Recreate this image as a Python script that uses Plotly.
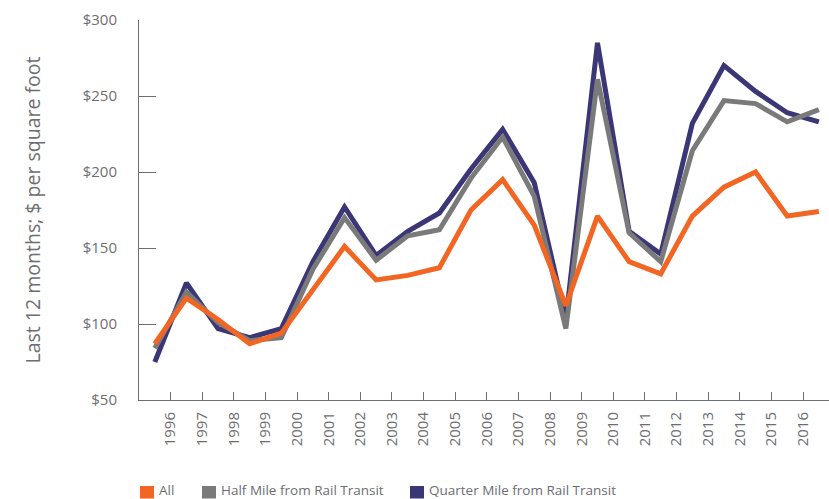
import plotly.graph_objects as go

# Data (annual points placed between year ticks)
x_pos = [1995.5 + i for i in range(22)]
all_vals = [87, 117, 103, 87, 94, 123, 151, 129, 132, 137, 175, 195, 165, 112, 171, 141, 133, 171, 190, 200, 171, 174]
half_vals = [84, 121, 101, 89, 91, 136, 170, 142, 158, 162, 196, 223, 184, 97, 261, 160, 141, 214, 247, 245, 233, 241]
quarter_vals = [75, 127, 97, 91, 97, 141, 177, 145, 161, 173, 202, 228, 193, 103, 285, 161, 146, 232, 270, 253, 239, 233]
tick_years = list(range(1996, 2017))
tick_text = [str(y) for y in tick_years]
y_ticks = [50, 100, 150, 200, 250, 300]
y_text = ["$50", "$100", "$150", "$200", "$250", "$300"]

series = [
    ("All", all_vals, "#F26522"),
    ("Half Mile from Rail Transit", half_vals, "#7A7A7A"),
    ("Quarter Mile from Rail Transit", quarter_vals, "#3B3675"),
]

fig = go.Figure()
for name, vals, color in [series[2], series[1], series[0]]:
    fig.add_trace(go.Scatter(x=x_pos, y=vals, mode="lines", name=name,
                             line=dict(color=color, width=5), showlegend=False))

FONT = "Open Sans"
W, H = 829, 499
L, R, T, B = 139, 0, 20, 99
pw, ph = W - L - R, H - T - B

def px(xp):
    return (xp - L) / pw

def py(yp):
    return (H - B - yp) / ph

# manual legend
leg = [("All", "#F26522", 140, 159), ("Half Mile from Rail Transit", "#7A7A7A", 202, 221),
       ("Quarter Mile from Rail Transit", "#3B3675", 410, 429)]
for name, color, sx, tx in leg:
    fig.add_shape(type="rect", xref="paper", yref="paper", x0=px(sx), x1=px(sx + 14),
                  y0=py(498.5), y1=py(486), fillcolor=color, line=dict(width=0))
    fig.add_annotation(xref="paper", yref="paper", x=px(tx - 1), y=py(490), xanchor="left",
                       yanchor="middle", text=name, showarrow=False, borderpad=0,
                       font=dict(family=FONT, size=13.5, color="#6D6E71"))

fig.update_layout(
    width=W, height=H,
    margin=dict(l=L, r=R, t=T, b=B, autoexpand=False),
    paper_bgcolor="white", plot_bgcolor="white",
    font=dict(family=FONT, color="#6D6E71"),
    xaxis=dict(range=[1995, 1995 + pw / 31.62], tickvals=tick_years, ticktext=tick_text,
               tickangle=-90, ticks="inside", ticklen=8, tickcolor="#6D6E71",
               showline=True, linecolor="#6D6E71", linewidth=1, showgrid=False,
               zeroline=False, tickfont=dict(family=FONT, size=15, color="#6D6E71"),
               ticklabelstandoff=5, automargin=False),
    yaxis=dict(range=[50, 300], tickvals=y_ticks, ticktext=y_text,
               ticks="inside", ticklen=17, tickcolor="#6D6E71",
               showline=True, linecolor="#6D6E71", linewidth=1, showgrid=False,
               zeroline=False, tickfont=dict(family=FONT, size=15, color="#6D6E71"),
               ticklabelstandoff=18, automargin=False,
               title=dict(text="Last 12 months; $ per square foot", standoff=36,
                          font=dict(family=FONT, size=19.5, color="#6D6E71"))),
)

fig.write_html("out.html", config={"displayModeBar": False},
               post_script="document.body.style.margin='0';")
